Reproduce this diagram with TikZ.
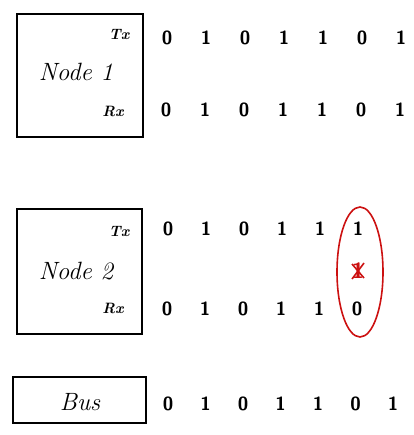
\documentclass[tikz,border=0pt]{standalone}
\usepackage{tikz}
\usepackage{xcolor}
\usetikzlibrary{positioning,calc}
\definecolor{errred}{HTML}{CC1111}

\begin{document}
\begin{tikzpicture}[x=1pt,y=-1pt,every node/.style={inner sep=1pt}]
  \useasboundingbox (0,0) rectangle (413,435);
  \tikzset{
    unitbox/.style={draw,line width=1.4pt},
    bitval/.style={font=\fontsize{19}{19}\selectfont\sffamily\bfseries},
    portlbl/.style={font=\fontsize{15}{15}\selectfont\itshape\bfseries},
    unitname/.style={font=\fontsize{25}{25}\selectfont\itshape}
  }
  % node 1
  \draw[unitbox] (17,14) rectangle (143,137);
  \node[unitname] (n1) at (76,72) {Node 1};
  \node[portlbl] (n1tx) at (119,35) {Tx};
  \node[portlbl] (n1rx) at (113,111) {Rx};
  \foreach \b [count=\i] in {0,1,0,1,1,0,1}
    \node[bitval] (t1\i) at ({167+(\i-1)*39},38) {\b};
  \foreach \b [count=\i] in {0,1,0,1,1,0,1}
    \node[bitval] (r1\i) at ({166+(\i-1)*39},110) {\b};

  % node 2
  \draw[unitbox] (17,209) rectangle (142,334);
  \node[unitname] (n2) at (76,271) {Node 2};
  \node[portlbl] (n2tx) at (119,231) {Tx};
  \node[portlbl] (n2rx) at (113,308) {Rx};
  \foreach \b [count=\i] in {0,1,0,1,1,1}
    \node[bitval] (t2\i) at ({168+(\i-1)*38},229) {\b};
  \foreach \b [count=\i] in {0,1,0,1,1,0}
    \node[bitval] (r2\i) at ({167+(\i-1)*38},309) {\b};
  \node[bitval,text=errred,font=\fontsize{22}{22}\selectfont\sffamily\bfseries] (err) at (358,271) {1};
  \draw[errred,line width=1.6pt] ($(err.center)+(-6,8)$) -- ($(err.center)+(6,-8)$);
  \draw[errred,line width=1.6pt] ($(err.center)+(-6,-7)$) -- ($(err.center)+(6,7)$);
  \draw[errred,line width=1.6pt] (360,272) ellipse [x radius=23,y radius=65];

  % bus
  \draw[unitbox] (13,377) rectangle (146,423);
  \node[unitname] (bus) at (80,402) {Bus};
  \foreach \b [count=\i] in {0,1,0,1,1,0,1}
    \node[bitval] (bb\i) at ({168+(\i-1)*37.5},404) {\b};
\end{tikzpicture}
\end{document}
